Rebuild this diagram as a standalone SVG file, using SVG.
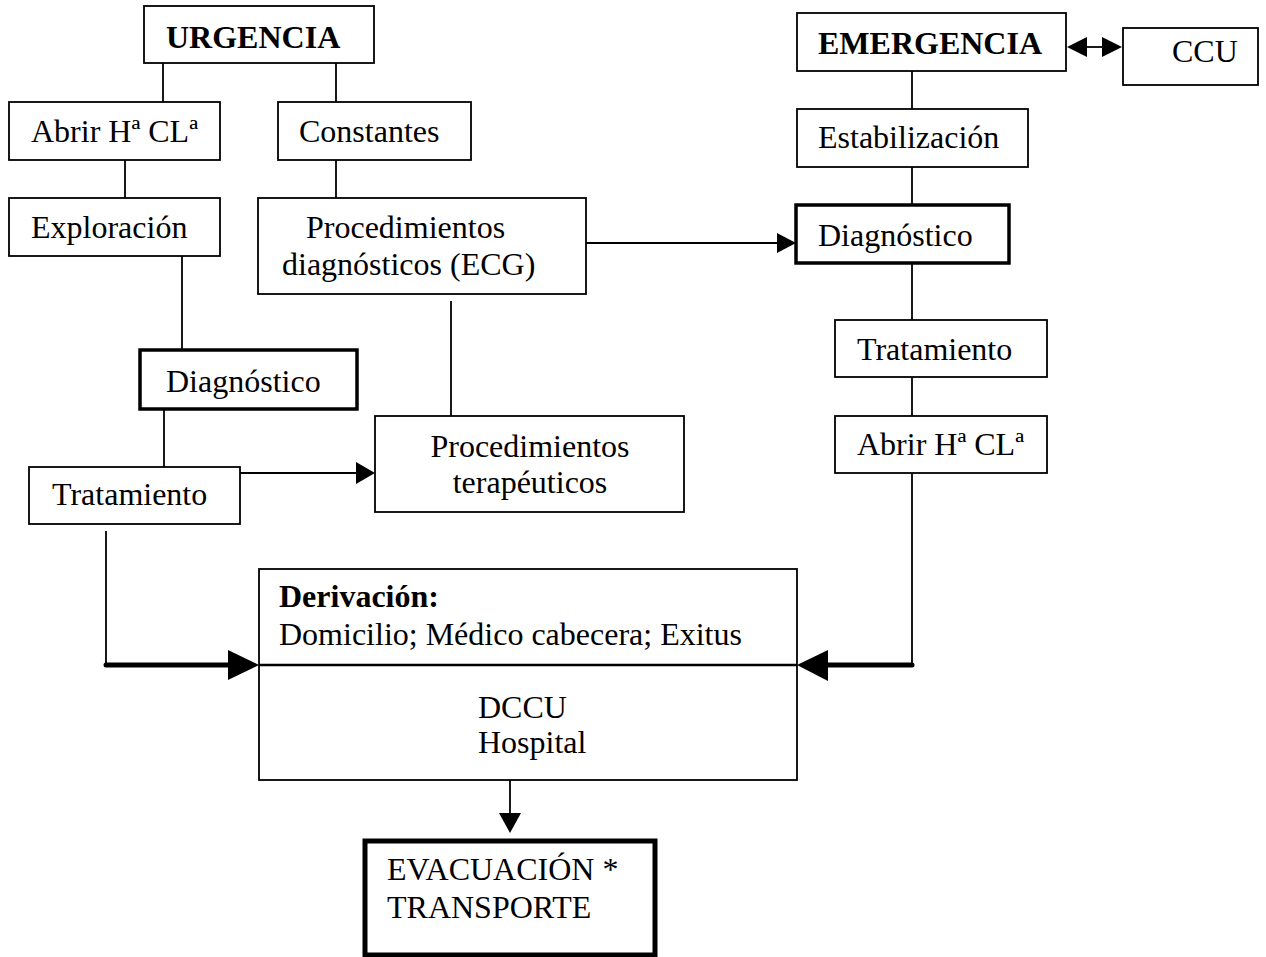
<svg xmlns="http://www.w3.org/2000/svg" width="1266" height="957" viewBox="0 0 1266 957">
  <style>
    .box { fill: #fff; stroke: #000; stroke-width: 1.8; }
    .thick { fill: #fff; stroke: #000; stroke-width: 3.5; }
    .heavy { fill: #fff; stroke: #000; stroke-width: 5; }
    .t { font-family: "Liberation Serif", "Times New Roman", serif; font-size: 32px; fill: #000; }
    .b { font-weight: bold; }
    .line { stroke: #000; stroke-width: 1.8; fill: none; }
    .bold-line { stroke: #000; stroke-width: 5; fill: none; stroke-linecap: round; }
    .head { fill: #000; stroke: none; }
  </style>
  <rect width="1266" height="957" fill="#fff"/>

  <!-- connectors -->
  <g id="connectors">
    <!-- URGENCIA branch -->
    <line class="line" x1="163" y1="63" x2="163" y2="102"/>
    <line class="line" x1="336" y1="63" x2="336" y2="102"/>
    <line class="line" x1="125" y1="160" x2="125" y2="198"/>
    <line class="line" x1="336" y1="160" x2="336" y2="198"/>
    <line class="line" x1="182" y1="256" x2="182" y2="350"/>
    <line class="line" x1="164" y1="409" x2="164" y2="467"/>
    <line class="line" x1="451" y1="301" x2="451" y2="416"/>
    <!-- Tratamiento -> Procedimientos terapéuticos -->
    <line class="line" x1="240" y1="473" x2="358" y2="473"/>
    <polygon class="head" points="375,473 356,462 356,484"/>
    <!-- Procedimientos diagnósticos -> Diagnóstico (emergencia) -->
    <line class="line" x1="586" y1="243" x2="780" y2="243"/>
    <polygon class="head" points="796,243 777,233 777,253"/>
    <!-- EMERGENCIA <-> CCU -->
    <line class="line" x1="1084" y1="47" x2="1106" y2="47"/>
    <polygon class="head" points="1067,47 1087,37 1087,57"/>
    <polygon class="head" points="1122,47 1102,37 1102,57"/>
    <!-- EMERGENCIA branch -->
    <line class="line" x1="912" y1="71" x2="912" y2="109"/>
    <line class="line" x1="912" y1="167" x2="912" y2="205"/>
    <line class="line" x1="912" y1="263" x2="912" y2="320"/>
    <line class="line" x1="912" y1="377" x2="912" y2="416"/>
    <line class="line" x1="912" y1="473" x2="912" y2="665"/>
    <!-- left return into Derivación -->
    <line class="line" x1="106" y1="531" x2="106" y2="665"/>
    <line class="bold-line" x1="106" y1="665" x2="232" y2="665"/>
    <polygon class="head" points="259,665 228,650 228,680"/>
    <!-- right return into Derivación -->
    <line class="bold-line" x1="912" y1="665" x2="824" y2="665"/>
    <polygon class="head" points="797,665 828,650 828,681"/>
    <!-- Derivación -> EVACUACIÓN -->
    <line class="line" x1="510" y1="780" x2="510" y2="815"/>
    <polygon class="head" points="510,833 499,813 521,813"/>
  </g>

  <g id="urgencia">
    <rect class="box" x="144" y="6" width="230" height="57"/>
    <text class="t b" x="166" y="48" font-size="31">URGENCIA</text>
  </g>
  <g id="abrir-urg">
    <rect class="box" x="9" y="102" width="211" height="58"/>
    <text class="t" x="31" y="142">Abrir Hª CLª</text>
  </g>
  <g id="constantes">
    <rect class="box" x="278" y="102" width="193" height="58"/>
    <text class="t" x="299" y="142">Constantes</text>
  </g>
  <g id="exploracion">
    <rect class="box" x="9" y="198" width="211" height="58"/>
    <text class="t" x="31" y="238">Exploración</text>
  </g>
  <g id="proc-diag">
    <rect class="box" x="258" y="198" width="328" height="96"/>
    <text class="t" x="306" y="238">Procedimientos</text>
    <text class="t" x="282" y="275">diagnósticos (ECG)</text>
  </g>
  <g id="diagnostico-urg">
    <rect class="thick" x="140" y="350" width="217" height="59"/>
    <text class="t" x="166" y="392">Diagnóstico</text>
  </g>
  <g id="tratamiento-urg">
    <rect class="box" x="29" y="467" width="211" height="57"/>
    <text class="t" x="52" y="505">Tratamiento</text>
  </g>
  <g id="proc-terap">
    <rect class="box" x="375" y="416" width="309" height="96"/>
    <text class="t" x="530" y="457" text-anchor="middle">Procedimientos</text>
    <text class="t" x="530" y="493" text-anchor="middle">terapéuticos</text>
  </g>

  <g id="emergencia">
    <rect class="box" x="797" y="13" width="269" height="58"/>
    <text class="t b" x="818" y="54" font-size="31">EMERGENCIA</text>
  </g>
  <g id="ccu">
    <rect class="box" x="1123" y="28" width="135" height="57"/>
    <text class="t" x="1172" y="62" font-size="26">CCU</text>
  </g>
  <g id="estabilizacion">
    <rect class="box" x="797" y="109" width="231" height="58"/>
    <text class="t" x="818" y="148">Estabilización</text>
  </g>
  <g id="diagnostico-emg">
    <rect class="thick" x="796" y="205" width="213" height="58"/>
    <text class="t" x="818" y="246">Diagnóstico</text>
  </g>
  <g id="tratamiento-emg">
    <rect class="box" x="835" y="320" width="212" height="57"/>
    <text class="t" x="857" y="360">Tratamiento</text>
  </g>
  <g id="abrir-emg">
    <rect class="box" x="835" y="416" width="212" height="57"/>
    <text class="t" x="857" y="455">Abrir Hª CLª</text>
  </g>

  <g id="derivacion">
    <rect class="box" x="259" y="569" width="538" height="211"/>
    <line stroke="#000" stroke-width="2.5" x1="259" y1="665" x2="797" y2="665"/>
    <text class="t b" x="279" y="607">Derivación:</text>
    <text class="t" x="279" y="645">Domicilio; Médico cabecera; Exitus</text>
    <text class="t" x="478" y="718">DCCU</text>
    <text class="t" x="478" y="753">Hospital</text>
  </g>

  <g id="evacuacion">
    <rect class="heavy" x="365" y="841" width="290" height="114"/>
    <text class="t" x="387" y="880">EVACUACIÓN *</text>
    <text class="t" x="387" y="918">TRANSPORTE</text>
  </g>
</svg>
